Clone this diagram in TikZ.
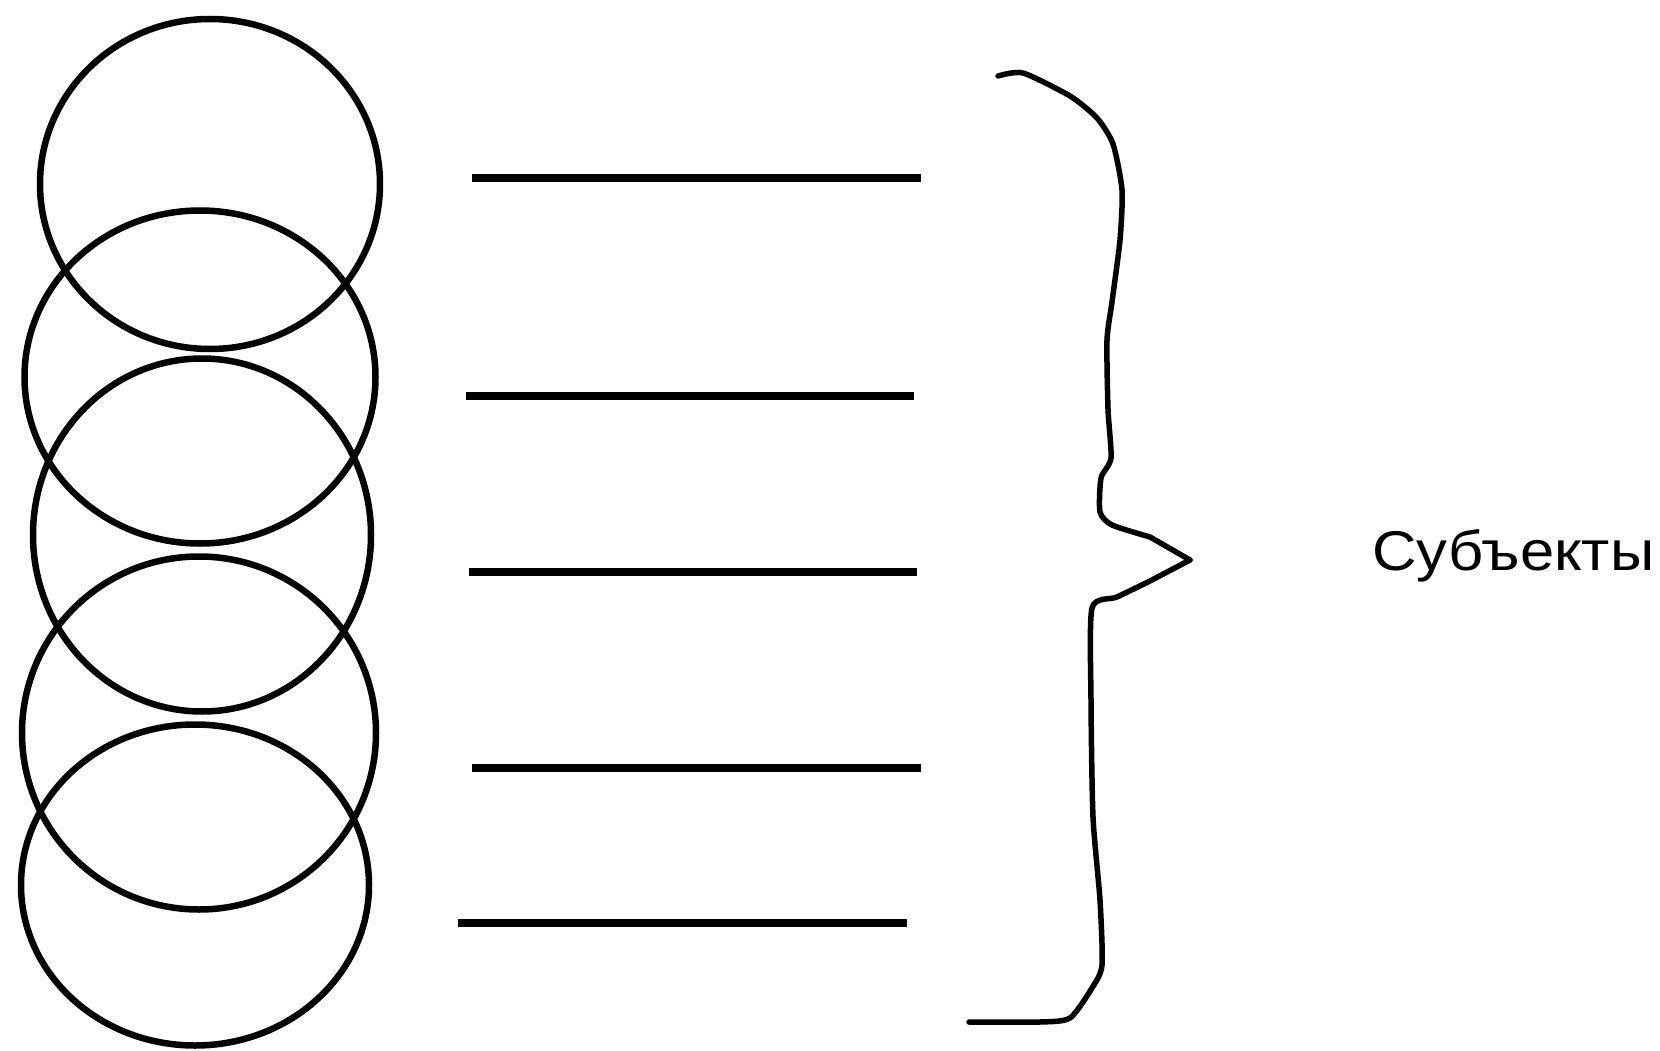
\documentclass[tikz,border=0pt]{standalone}
\usepackage{fontspec}
\setmainfont{Liberation Sans}
\usetikzlibrary{shapes.geometric}
\begin{document}
\begin{tikzpicture}[x=1pt,y=-1pt,
  ring/.style={draw=black,ellipse,line width=6.5pt,inner sep=0pt},
  bar/.style={draw=black,line width=8pt},
  bracestroke/.style={draw=black,line width=5.5pt,line join=round,line cap=round}]
\useasboundingbox[fill=white] (0,0) rectangle (1660,1051);
% rings
\node[ring,minimum width=340pt,minimum height=330pt] (c1) at (210,184) {};
\node[ring,minimum width=351pt,minimum height=333pt] (c2) at (200,377) {};
\node[ring,minimum width=338pt,minimum height=353pt] (c3) at (202,535) {};
\node[ring,minimum width=354pt,minimum height=353pt] (c4) at (199,733) {};
\node[ring,minimum width=348pt,minimum height=321pt] (c5) at (195,885) {};
% bars
\coordinate (a1) at (472,178); \coordinate (b1) at (921,178);
\coordinate (a2) at (466,396); \coordinate (b2) at (914,396);
\coordinate (a3) at (469,572); \coordinate (b3) at (917,572);
\coordinate (a4) at (472,768); \coordinate (b4) at (921,768);
\coordinate (a5) at (458,923); \coordinate (b5) at (907,923);
\draw[bar] (a1) -- (b1);
\draw[bar] (a2) -- (b2);
\draw[bar] (a3) -- (b3);
\draw[bar] (a4) -- (b4);
\draw[bar] (a5) -- (b5);
% brace
\coordinate (tip) at (1190,560);
\draw[bracestroke] plot[smooth,tension=0.4] coordinates {(998,76) (1023,73) (1070,96) (1097,118) (1113,144) (1122,190) (1120,240) (1112,302) (1107,340) (1108,409) (1111,458) (1101,478) (1100,512) (1112,525) (1150,537)} -- (tip);
\draw[bracestroke] (tip) -- plot[smooth,tension=0.4] coordinates {(1150,581) (1117,597) (1092,608) (1091,700) (1093,817) (1100,900) (1102,965) (1092,988) (1070,1018) (1040,1022) (969,1022)};
% label
\node[font=\fontsize{56}{60}\selectfont,inner sep=0pt,anchor=base west,xscale=1.1,transform shape] (lab) at (1372,570) {Субъекты};
\end{tikzpicture}
\end{document}
